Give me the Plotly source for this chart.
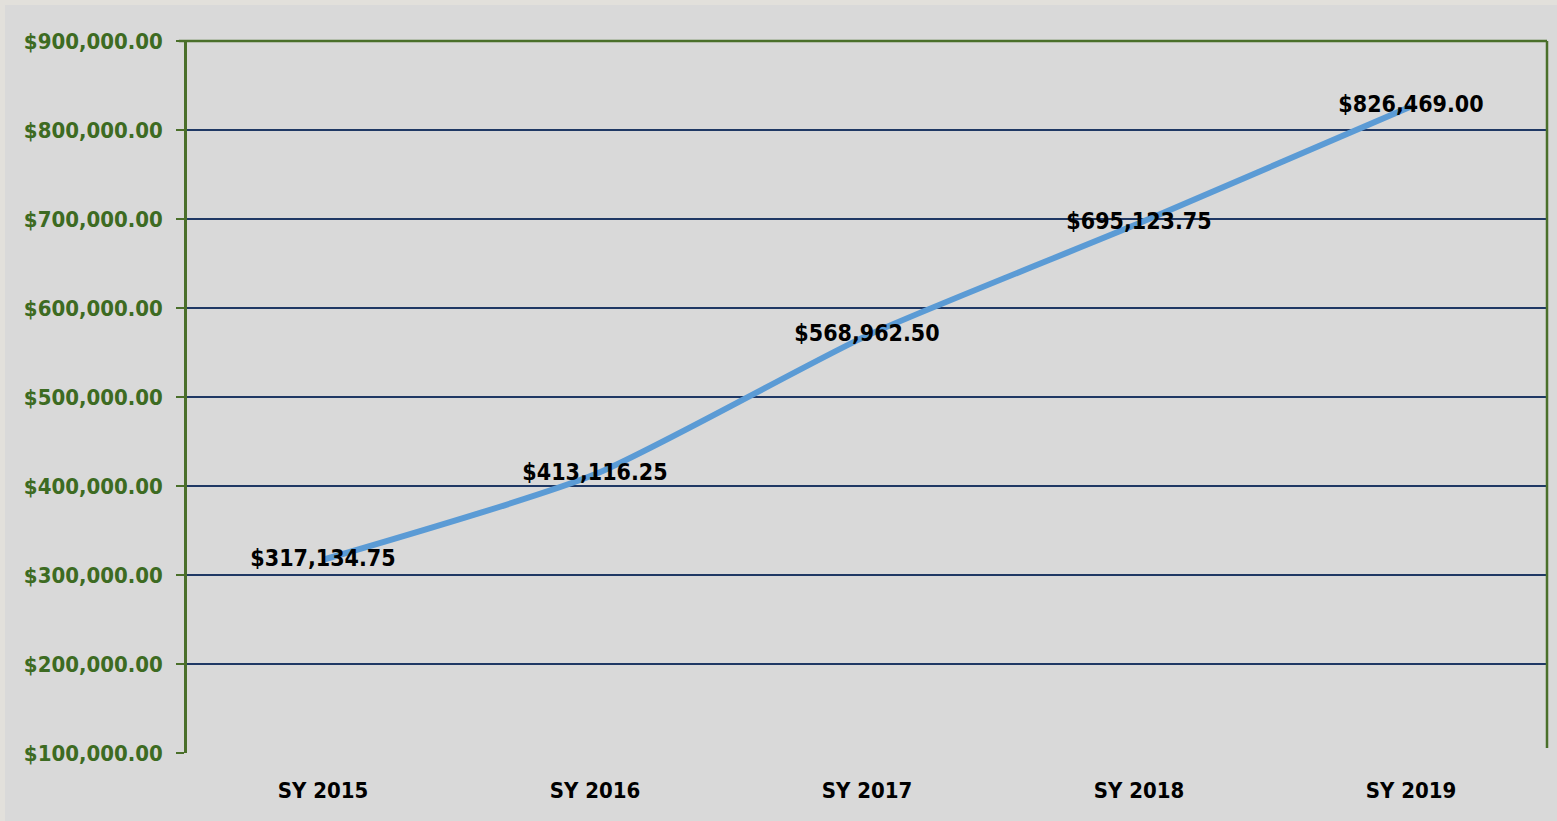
import plotly.graph_objects as go

categories = ["SY 2015", "SY 2016", "SY 2017", "SY 2018", "SY 2019"]
values = [317134.75, 413116.25, 568962.50, 695123.75, 826469.00]
tick_vals = [100000, 200000, 300000, 400000, 500000, 600000, 700000, 800000, 900000]
tick_text = ["${:,.2f}".format(v) for v in tick_vals]
labels = ["${:,.2f}".format(v) for v in values]

FONT = "DejaVu Sans Condensed, Liberation Sans Narrow, sans-serif"
GREEN = "#3d6b22"
AXIS_GREEN = "#4a6f2a"

fig = go.Figure()
fig.add_trace(go.Scatter(
    x=categories, y=values, mode="lines+text",
    line=dict(color="#5b9bd5", width=6, shape="spline", smoothing=0.6),
    text=labels, textposition="middle center",
    textfont=dict(family=FONT, size=23, color="black", weight="bold"),
    hoverinfo="skip", showlegend=False, cliponaxis=False,
))

fig.update_layout(
    width=1552, height=816,
    paper_bgcolor="#d9d9d9", plot_bgcolor="#d9d9d9",
    margin=dict(l=182, r=10, t=36, b=68),
    xaxis=dict(
        type="category", range=[-0.5, 4.5], showgrid=False, showline=False,
        ticks="", zeroline=False,
        tickfont=dict(family=FONT, size=22, color="black", weight="bold"),
        ticklabelstandoff=22,
    ),
    yaxis=dict(
        range=[100000, 900000], tickvals=tick_vals, ticktext=tick_text,
        showgrid=True, gridcolor="#1f3864", gridwidth=2,
        showline=True, linecolor=AXIS_GREEN, linewidth=2.5,
        ticks="outside", ticklen=8, tickcolor=AXIS_GREEN, tickwidth=2,
        zeroline=False,
        tickfont=dict(family=FONT, size=22, color=GREEN, weight="bold"),
        ticklabelstandoff=9,
    ),
    shapes=[
        dict(type="line", xref="paper", yref="paper", x0=0, x1=1, y0=1, y1=1,
             line=dict(color=AXIS_GREEN, width=2.5)),
        dict(type="line", xref="paper", yref="paper", x0=1, x1=1, y0=0.007, y1=1,
             line=dict(color=AXIS_GREEN, width=2.5)),
        dict(type="line", xref="paper", yref="paper", x0=-0.006, x1=0, y0=1, y1=1,
             line=dict(color=AXIS_GREEN, width=2.5)),
    ],
)

fig.write_html(
    "out.html",
    post_script="document.body.style.margin='5px 0 0 5px';"
                "document.body.style.background='#e2e0db';"
                "document.body.style.overflow='hidden';",
)
